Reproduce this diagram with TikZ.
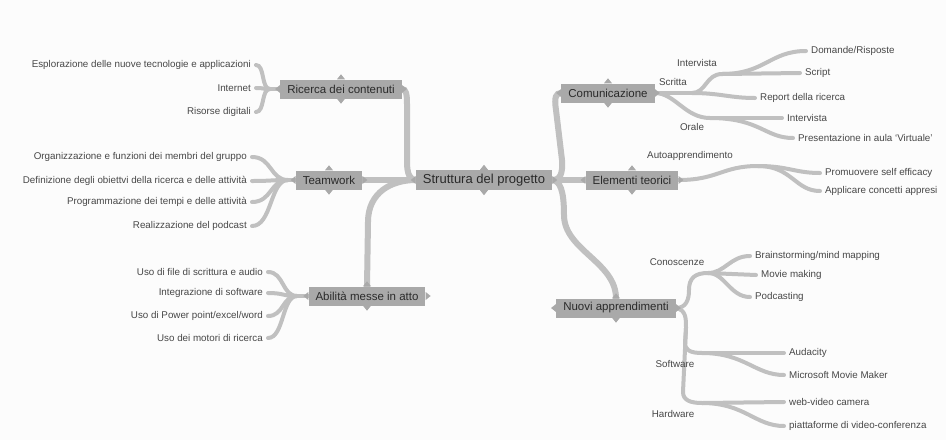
\documentclass[tikz,border=0pt]{standalone}
\usepackage{fontspec}
\setmainfont{Liberation Sans}

\definecolor{boxgray}{HTML}{A9A9A9}
\definecolor{linegray}{HTML}{C0C0C0}
\definecolor{txtdark}{HTML}{2A2A2A}
\definecolor{txtleaf}{HTML}{474747}
\definecolor{sfondo}{HTML}{FCFCFC}

\pgfdeclarelayer{fondo}
\pgfdeclarelayer{rami}
\pgfsetlayers{fondo,rami,main}

\tikzset{
  centro/.style={fill=boxgray, text=txtdark, font=\fontsize{13}{15}\selectfont, inner xsep=7pt, minimum height=20pt},
  tema/.style={fill=boxgray, text=txtdark, font=\fontsize{11.5}{14}\selectfont, inner xsep=7pt, minimum height=19pt},
  foglia/.style={text=txtleaf, font=\fontsize{9.8}{12}\selectfont, inner xsep=5pt, inner ysep=1pt},
  sotto/.style={text=txtleaf, font=\fontsize{9.8}{12}\selectfont, inner sep=1pt},
  ramo/.style={draw=linegray, line width=6pt, line cap=round},
  rametto/.style={draw=linegray, line width=4pt, line cap=round},
}

\begin{document}
\begin{tikzpicture}[x=1pt,y=-1pt]
\useasboundingbox (0,0) rectangle (946,440);
\begin{pgfonlayer}{fondo}
  \fill[sfondo] (0,0) rectangle (946,440);
\end{pgfonlayer}

% nodi principali
\node[centro] (root) at (484,180) {Struttura del progetto};
\node[tema] (ricerca) at (341,89) {Ricerca dei contenuti};
\node[tema] (team) at (329,180) {Teamwork};
\node[tema] (abil) at (367,296) {Abilità messe in atto};
\node[tema] (comun) at (608,93) {Comunicazione};
\node[tema] (elem) at (632,180) {Elementi teorici};
\node[tema] (nuovi) at (616,308) {Nuovi apprendimenti};

% linguette dei box
\foreach \t in {root,ricerca,team,abil,comun,elem,nuovi}{
  \fill[boxgray] ([xshift=-4pt]\t.north) -- ([yshift=5pt]\t.north) -- ([xshift=4pt]\t.north) -- cycle;
  \fill[boxgray] ([xshift=-4pt]\t.south) -- ([yshift=-5pt]\t.south) -- ([xshift=4pt]\t.south) -- cycle;
  \fill[boxgray] ([yshift=4pt]\t.west) -- ([xshift=-5pt]\t.west) -- ([yshift=-4pt]\t.west) -- cycle;
  \fill[boxgray] ([yshift=4pt]\t.east) -- ([xshift=5pt]\t.east) -- ([yshift=-4pt]\t.east) -- cycle;
}

% foglie a sinistra
\node[foglia, anchor=east] (r1) at (256,65) {Esplorazione delle nuove tecnologie e applicazioni};
\node[foglia, anchor=east] (r2) at (256,88) {Internet};
\node[foglia, anchor=east] (r3) at (256,112) {Risorse digitali};

\node[foglia, anchor=east] (t1) at (252,157) {Organizzazione e funzioni dei membri del gruppo};
\node[foglia, anchor=east] (t2) at (252,181) {Definizione degli obiettvi della ricerca e delle attività};
\node[foglia, anchor=east] (t3) at (252,202) {Programmazione dei tempi e delle attività};
\node[foglia, anchor=east] (t4) at (252,226) {Realizzazione del podcast};

\node[foglia, anchor=east] (a1) at (268,272) {Uso di file di scrittura e audio};
\node[foglia, anchor=east] (a2) at (268,293) {Integrazione di software};
\node[foglia, anchor=east] (a3) at (268,316) {Uso di Power point/excel/word};
\node[foglia, anchor=east] (a4) at (268,338) {Uso dei motori di ricerca};

% sottorami a destra
\node[sotto] (scritta) at (673,82) {Scritta};
\node[sotto] (intsub) at (697,63) {Intervista};
\node[sotto] (orale) at (692,127) {Orale};
\node[sotto] (auto) at (690,156) {Autoapprendimento};
\node[sotto] (conosc) at (677,262) {Conoscenze};
\node[sotto] (soft) at (675,364) {Software};
\node[sotto] (hard) at (673,414) {Hardware};

\coordinate (rj) at (270,89);
\coordinate (tj) at (288,180);
\coordinate (aj) at (297,296);
\coordinate (scrJ) at (692,93);
\coordinate (intJ) at (722,74);
\coordinate (oraJ) at (710,118);
\coordinate (autJ) at (758,166);
\coordinate (conJ) at (708,273);
\coordinate (sofJ) at (702,353);
\coordinate (harJ) at (702,403);

% foglie a destra
\node[foglia, anchor=west] (c1) at (806,51) {Domande/Risposte};
\node[foglia, anchor=west] (c2) at (800,73) {Script};
\node[foglia, anchor=west] (c3) at (755,98) {Report della ricerca};
\node[foglia, anchor=west] (c4) at (782,118) {Intervista};
\node[foglia, anchor=west] (c5) at (793,138) {Presentazione in aula `Virtuale'};

\node[foglia, anchor=west] (e1) at (820,173) {Promuovere self efficacy};
\node[foglia, anchor=west] (e2) at (820,191) {Applicare concetti appresi};

\node[foglia, anchor=west] (n1) at (750,256) {Brainstorming/mind mapping};
\node[foglia, anchor=west] (n2) at (756,275) {Movie making};
\node[foglia, anchor=west] (n3) at (750,297) {Podcasting};
\node[foglia, anchor=west] (s1) at (784,353) {Audacity};
\node[foglia, anchor=west] (s2) at (784,375) {Microsoft Movie Maker};
\node[foglia, anchor=west] (h1) at (784,402) {web-video camera};
\node[foglia, anchor=west] (h2) at (784,426) {piattaforme di video-conferenza};

\begin{pgfonlayer}{rami}
  % rami principali
  \draw[ramo] (root.west) .. controls (410,180) and (407,174) .. (407,162) -- (407,104) .. controls (407,94) and (406,89) .. (ricerca.east);
  \draw[ramo] (root.west) -- (team.east);
  \draw[ramo] (root.west) .. controls (392,180) and (368,192) .. (368,222) -- (abil.north);
  \draw[ramo] (root.east) .. controls (560,180) and (563,174) .. (562,160) -- (556,110) .. controls (554,97) and (556,93) .. (comun.west);
  \draw[ramo] (root.east) -- (elem.west);
  \draw[ramo] (root.east) .. controls (560,181) and (564,190) .. (564,215) .. controls (564,250) and (616,262) .. (nuovi.north);

  % sinistra
  \draw[rametto] (ricerca.west) -- (rj);
  \foreach \f in {r1,r2,r3} \draw[rametto] (rj) .. controls +(-9,0) and +(9,0) .. (\f.east);
  \draw[rametto] (team.west) -- (tj);
  \foreach \f in {t1,t2,t3,t4} \draw[rametto] (tj) .. controls +(-18,0) and +(20,0) .. (\f.east);
  \draw[rametto] (abil.west) -- (aj);
  \foreach \f in {a1,a2,a3,a4} \draw[rametto] (aj) .. controls +(-15,0) and +(16,0) .. (\f.east);

  % comunicazione
  \draw[rametto] (comun.east) -- (scrJ);
  \draw[rametto] (scrJ) .. controls (706,93) and (706,74) .. (intJ);
  \draw[rametto] (intJ) -- (c2.west);
  \draw[rametto] (intJ) .. controls (765,74) and (770,51) .. (c1.west);
  \draw[rametto] (scrJ) .. controls (720,93) and (730,98) .. (c3.west);
  \draw[rametto] (comun.east) .. controls (675,93) and (685,118) .. (oraJ);
  \draw[rametto] (oraJ) -- (c4.west);
  \draw[rametto] (oraJ) .. controls (760,118) and (765,138) .. (c5.west);

  % elementi teorici
  \draw[rametto] (elem.east) .. controls (718,180) and (722,166) .. (autJ);
  \draw[rametto] (autJ) .. controls (788,166) and (795,173) .. (e1.west);
  \draw[rametto] (autJ) .. controls (792,166) and (795,191) .. (e2.west);

  % nuovi apprendimenti
  \draw[rametto] (nuovi.east) .. controls (686,308) and (689,300) .. (689,290) .. controls (689,278) and (695,273) .. (conJ);
  \draw[rametto] (conJ) .. controls (725,273) and (730,256) .. (n1.west);
  \draw[rametto] (conJ) -- (n2.west);
  \draw[rametto] (conJ) .. controls (725,273) and (730,297) .. (n3.west);
  \draw[rametto] (nuovi.east) .. controls (686,310) and (686,318) .. (686,328) -- (685,343) .. controls (685,350) and (690,353) .. (sofJ);
  \draw[rametto] (sofJ) -- (s1.west);
  \draw[rametto] (sofJ) .. controls (745,353) and (755,375) .. (s2.west);
  \draw[rametto] (686,328) -- (683,392) .. controls (683,400) and (690,403) .. (harJ);
  \draw[rametto] (harJ) -- (h1.west);
  \draw[rametto] (harJ) .. controls (745,403) and (755,426) .. (h2.west);
\end{pgfonlayer}
\end{tikzpicture}
\end{document}
